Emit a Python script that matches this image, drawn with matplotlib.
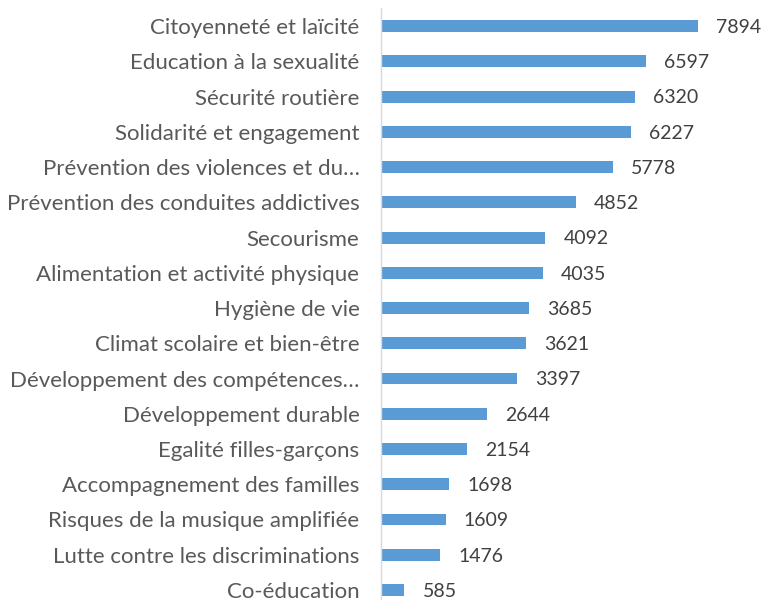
import matplotlib.pyplot as plt

categories = ["Citoyenneté et laïcité", "Education à la sexualité", "Sécurité routière",
              "Solidarité et engagement", "Prévention des violences et du…",
              "Prévention des conduites addictives", "Secourisme",
              "Alimentation et activité physique", "Hygiène de vie",
              "Climat scolaire et bien-être", "Développement des compétences…",
              "Développement durable", "Egalité filles-garçons",
              "Accompagnement des familles", "Risques de la musique amplifiée",
              "Lutte contre les discriminations", "Co-éducation"]
values = [7894, 6597, 6320, 6227, 5778, 4852, 4092, 4035, 3685, 3621, 3397,
          2644, 2154, 1698, 1609, 1476, 585]

plt.rcParams['font.family'] = ['Lato', 'DejaVu Sans']

fig = plt.figure(figsize=(7.63, 6.0), dpi=100)
ax = fig.add_axes([381/763, 0, 1 - 381/763, 1 - 8.4/600])

n = len(categories)
ypos = list(range(n - 1, -1, -1))
ax.barh(ypos, values, height=0.34, color="#5B9BD5")
for y, v in zip(ypos, values):
    ax.annotate(str(v), (v, y), xytext=(13, -1), textcoords="offset points",
                ha="left", va="center", fontsize=14, color="#404040")

ax.set_yticks(ypos)
ax.set_yticklabels(categories, fontsize=16, color="#595959")
ax.tick_params(axis="y", length=0, pad=15.5)
ax.set_xticks([])
ax.set_ylim(-0.284, n - 0.5)
ax.set_xlim(0, 9513)
for s in ["top", "right", "bottom"]:
    ax.spines[s].set_visible(False)
ax.spines["left"].set_color("#D9D9D9")
ax.spines["left"].set_linewidth(1)

fig.savefig("out.png", dpi=100, facecolor="white")
